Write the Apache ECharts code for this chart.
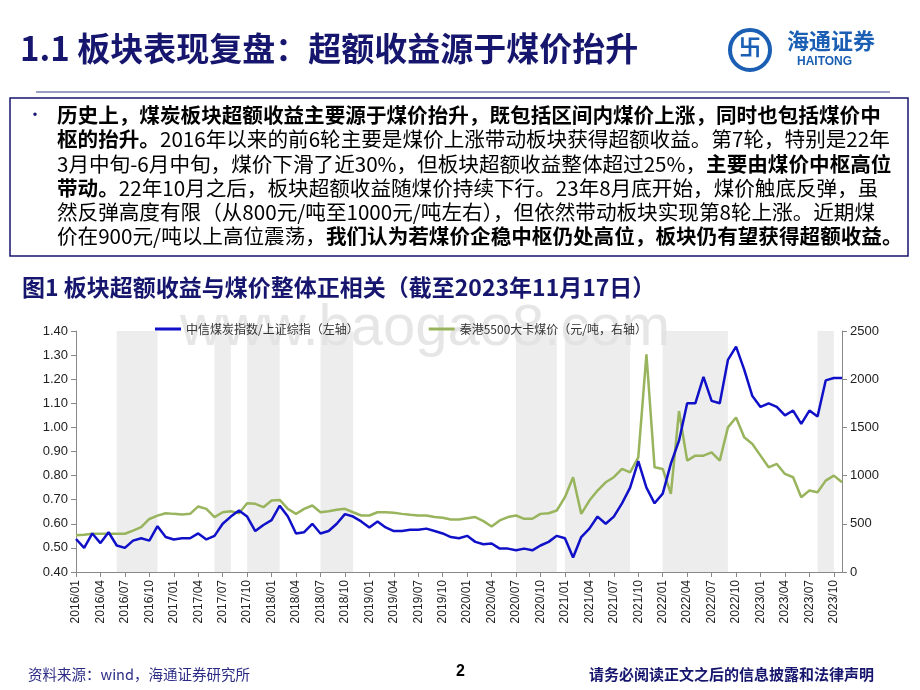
<!DOCTYPE html>
<html><head><meta charset="utf-8">
<script src="https://cdn.jsdelivr.net/npm/echarts@6/dist/echarts.min.js"></script>
<style>html,body{margin:0;padding:0;background:#fff}#c{width:920px;height:690px}</style>
</head><body><div id="c"></div>
<script>
// Months 2016/01 .. 2023/11
const months = [];
for (let y = 2016; y <= 2023; y++) for (let m = 1; m <= 12; m++) { if (y === 2023 && m > 11) break; months.push(y + '/' + String(m).padStart(2, '0')); }
const ratioValues = [0.537,0.50,0.56,0.52,0.565,0.51,0.50,0.53,0.54,0.53,0.59,0.545,0.535,0.54,0.54,0.56,0.535,0.55,0.60,0.63,0.655,0.63,0.57,0.595,0.615,0.675,0.63,0.56,0.565,0.60,0.56,0.57,0.60,0.64,0.63,0.61,0.585,0.61,0.585,0.57,0.57,0.575,0.575,0.58,0.57,0.56,0.545,0.54,0.55,0.525,0.515,0.518,0.497,0.497,0.49,0.497,0.49,0.51,0.525,0.55,0.54,0.46,0.545,0.58,0.63,0.60,0.63,0.685,0.75,0.86,0.75,0.685,0.725,0.85,0.945,1.10,1.10,1.21,1.11,1.10,1.28,1.335,1.24,1.13,1.085,1.10,1.085,1.05,1.07,1.015,1.07,1.045,1.195,1.205,1.205];
const priceValues = [380,386,397,397,397,397,397,430,465,550,585,610,603,597,603,680,655,570,620,630,610,714,707,672,741,748,655,603,655,690,620,630,645,655,620,586,586,620,620,614,603,593,586,586,570,562,545,545,558,570,528,472,535,570,586,552,552,603,610,638,776,983,603,741,845,931,983,1069,1034,1190,2258,1086,1069,810,1670,1155,1207,1207,1241,1155,1500,1603,1397,1328,1207,1086,1121,1017,983,776,845,828,948,1000,931];
const shadedBands = [['2016/06','2016/11'],['2017/06','2017/08'],['2017/10','2018/02'],['2018/07','2018/11'],['2020/07','2020/12'],['2021/01','2021/09'],['2022/01','2022/09'],['2023/08','2023/10']];
const seriesNames = ['中信煤炭指数/上证综指（左轴）','秦港5500大卡煤价（元/吨，右轴）'];

const NAVY = '#16166e', BLUE = '#2b2b86';
const lines = [
  [['历史上，煤炭板块超额收益主要源于煤价抬升，既包括区间内煤价上涨，同时也包括煤价中','b']],
  [['枢的抬升。','b'],['2016年以来的前6轮主要是煤价上涨带动板块获得超额收益。第7轮，特别是22年','n']],
  [['3月中旬-6月中旬，煤价下滑了近30%，但板块超额收益整体超过25%，','n'],['主要由煤价中枢高位','b']],
  [['带动。','b'],['22年10月之后，板块超额收益随煤价持续下行。23年8月底开始，煤价触底反弹，虽','n']],
  [['然反弹高度有限（从800元/吨至1000元/吨左右），但依然带动板块实现第8轮上涨。近期煤','n']],
  [['价在900元/吨以上高位震荡，','n'],['我们认为若煤价企稳中枢仍处高位，板块仍有望获得超额收益。','b']]
];
const FF = '"Noto Sans CJK SC", sans-serif';
const graphics = [
  {type:'text', left:20, top:32, style:{text:'1.1 板块表现复盘：超额收益源于煤价抬升', font:'bold 33px '+FF, fill:NAVY}},
  {type:'circle', shape:{cx:750, cy:50, r:20}, style:{fill:'none', stroke:'#1a5fb4', lineWidth:4}},
  {type:'text', left:739, top:36, style:{text:'卐', font:'bold 22px '+FF, fill:'#1a5fb4'}},
  {type:'text', left:787, top:30, style:{text:'海通证券', font:'bold 22px '+FF, fill:'#1a5fb4'}},
  {type:'text', left:797, top:56, style:{text:'HAITONG', font:'bold 12px Arial', fill:'#1a5fb4'}},
  {type:'line', shape:{x1:36, y1:92, x2:890, y2:92}, style:{stroke:'#7a7fb0', lineWidth:1.5}},
  {type:'rect', shape:{x:10, y:98, width:898, height:158}, style:{fill:'none', stroke:NAVY, lineWidth:1.5}},
  {type:'text', left:27, top:106, style:{text:'•', font:'16px '+FF, fill:NAVY}},
  {type:'text', left:22, top:276, style:{text:'图1 板块超额收益与煤价整体正相关（截至2023年11月17日）', font:'bold 23px '+FF, fill:NAVY}},
  {type:'text', left:180, top:300, z:-1, style:{text:'www.baogao8.com', font:'58px Arial', fill:'rgba(200,200,200,0.45)'}},
  {type:'text', left:28, top:667, style:{text:'资料来源：wind，海通证券研究所', font:'14.5px '+FF, fill:BLUE}},
  {type:'text', left:456, top:664, style:{text:'2', font:'bold 16px Arial', fill:'#000'}},
  {type:'text', left:589, top:667, style:{text:'请务必阅读正文之后的信息披露和法律声明', font:'bold 15px '+FF, fill:NAVY}}
];
lines.forEach((ln, i) => {
  graphics.push({type:'text', left:57, top:105 + i*24.2, style:{
    text: ln.map(s => '{' + s[1] + '|' + s[0] + '}').join(''),
    rich:{b:{fontSize:20.6, fontWeight:'bold', color:NAVY, fontFamily:FF}, n:{fontSize:20.6, color:BLUE, fontFamily:FF}}
  }});
});

const chart = echarts.init(document.getElementById('c'));
chart.setOption({
  animation:false,
  graphic: graphics,
  legend:{top:318, left:150, itemGap:70, itemWidth:26, itemHeight:3, icon:'rect',
    textStyle:{fontSize:12, color:'#333', fontFamily:FF}, data:seriesNames},
  grid:{left:76, right:78, top:331, bottom:118},
  xAxis:{type:'category', data:months, boundaryGap:false,
    axisLine:{lineStyle:{color:'#888'}}, axisTick:{show:true, interval:2, lineStyle:{color:'#888'}},
    axisLabel:{interval:2, rotate:90, fontSize:12, color:'#222', fontFamily:'Arial'}},
  yAxis:[
    {type:'value', min:0.4, max:1.4, interval:0.1, splitLine:{show:false},
     axisLine:{show:true, lineStyle:{color:'#888'}}, axisTick:{show:true},
     axisLabel:{formatter:v=>v.toFixed(2), fontSize:13, color:'#222', fontFamily:'Arial'}},
    {type:'value', min:0, max:2500, interval:500, splitLine:{show:false},
     axisLine:{show:true, lineStyle:{color:'#888'}}, axisTick:{show:true},
     axisLabel:{formatter:v=>String(v), fontSize:13, color:'#222', fontFamily:'Arial'}}
  ],
  series:[
    {name:seriesNames[0], type:'line', data:ratioValues, yAxisIndex:0, symbol:'none', z:3,
     lineStyle:{color:'#1010c8', width:2.5}, itemStyle:{color:'#1010c8'},
     markArea:{silent:true, itemStyle:{color:'rgba(225,225,225,0.6)'}, data:shadedBands.map(b=>[{xAxis:b[0]},{xAxis:b[1]}])}},
    {name:seriesNames[1], type:'line', data:priceValues, yAxisIndex:1, symbol:'none', z:2,
     lineStyle:{color:'#98b45c', width:2.5}, itemStyle:{color:'#98b45c'}}
  ]
});
</script></body></html>
